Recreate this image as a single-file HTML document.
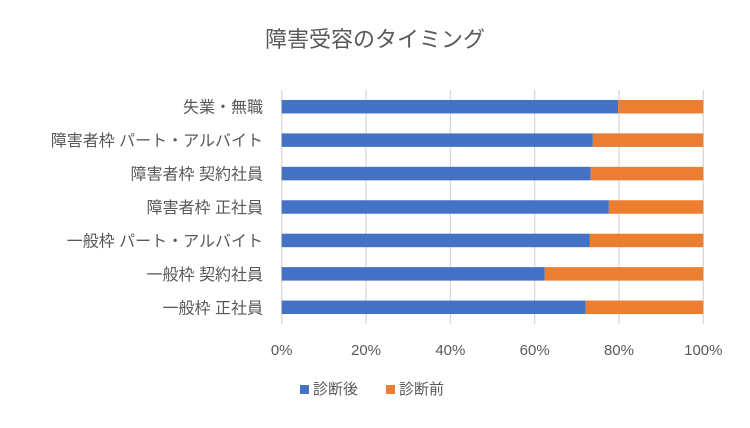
<!DOCTYPE html>
<html><head><meta charset="utf-8"><style>
body{margin:0;background:#fff;}
svg text{font-family:"Liberation Sans","Noto Sans CJK JP",sans-serif;}
</style></head><body>
<svg id="c" width="750" height="423">
<text x="375" y="47" text-anchor="middle" font-size="22" fill="#595959">障害受容のタイミング</text>
<g id="grid"></g><g id="bars"></g><g id="labels"></g>
<g>
<rect x="300" y="385" width="9" height="9" fill="#4472C4"/>
<text x="313" y="394" font-size="15" fill="#595959">診断後</text>
<rect x="386" y="385" width="9" height="9" fill="#ED7D31"/>
<text x="399" y="394" font-size="15" fill="#595959">診断前</text>
</g>
</svg>
<script>
const categories=["失業・無職","障害者枠 パート・アルバイト","障害者枠 契約社員","障害者枠 正社員","一般枠 パート・アルバイト","一般枠 契約社員","一般枠 正社員"];
const afterVals=[79.8,73.8,73.3,77.6,73.1,62.4,72.1];
const beforeVals=[20.2,26.2,26.7,22.4,26.9,37.6,27.9];
const ticks=[0,20,40,60,80,100];
const ns="http://www.w3.org/2000/svg";
const x0=281.7,x1=703.3,yTop=90,band=33.43,bh=13.5;
const sx=v=>x0+(x1-x0)*v/100;
const by=i=>yTop+band*i+band/2;
function mk(t,a,p){const e=document.createElementNS(ns,t);for(const k in a)e.setAttribute(k,a[k]);p.appendChild(e);return e;}
const G=document.getElementById('grid'),B=document.getElementById('bars'),L=document.getElementById('labels');
ticks.forEach(t=>{
 const l=mk('line',{x1:sx(t),x2:sx(t),y1:yTop,y2:yTop+band*7,stroke:'#D9D9D9','stroke-width':1.3},G);
 
 
 const tx=mk('text',{x:sx(t),y:355,'text-anchor':'middle','font-size':15,fill:'#595959'},L);
 tx.textContent=t+'%';
 
 
});
categories.forEach((c,i)=>{
 const y=by(i)-bh/2;
 const tot=afterVals[i]+beforeVals[i];
 const a=afterVals[i]/tot*100;
 const r1=mk('rect',{x:sx(0),y:y,width:sx(a)-sx(0),height:bh,fill:'#4472C4'},B);
 
 
 const r2=mk('rect',{x:sx(a),y:y,width:sx(100)-sx(a),height:bh,fill:'#ED7D31'},B);
 
 
 const t=mk('text',{x:263,y:by(i)+6,'text-anchor':'end','font-size':16,fill:'#595959'},L);
 t.textContent=c;
 
 
});
</script>
</body></html>
